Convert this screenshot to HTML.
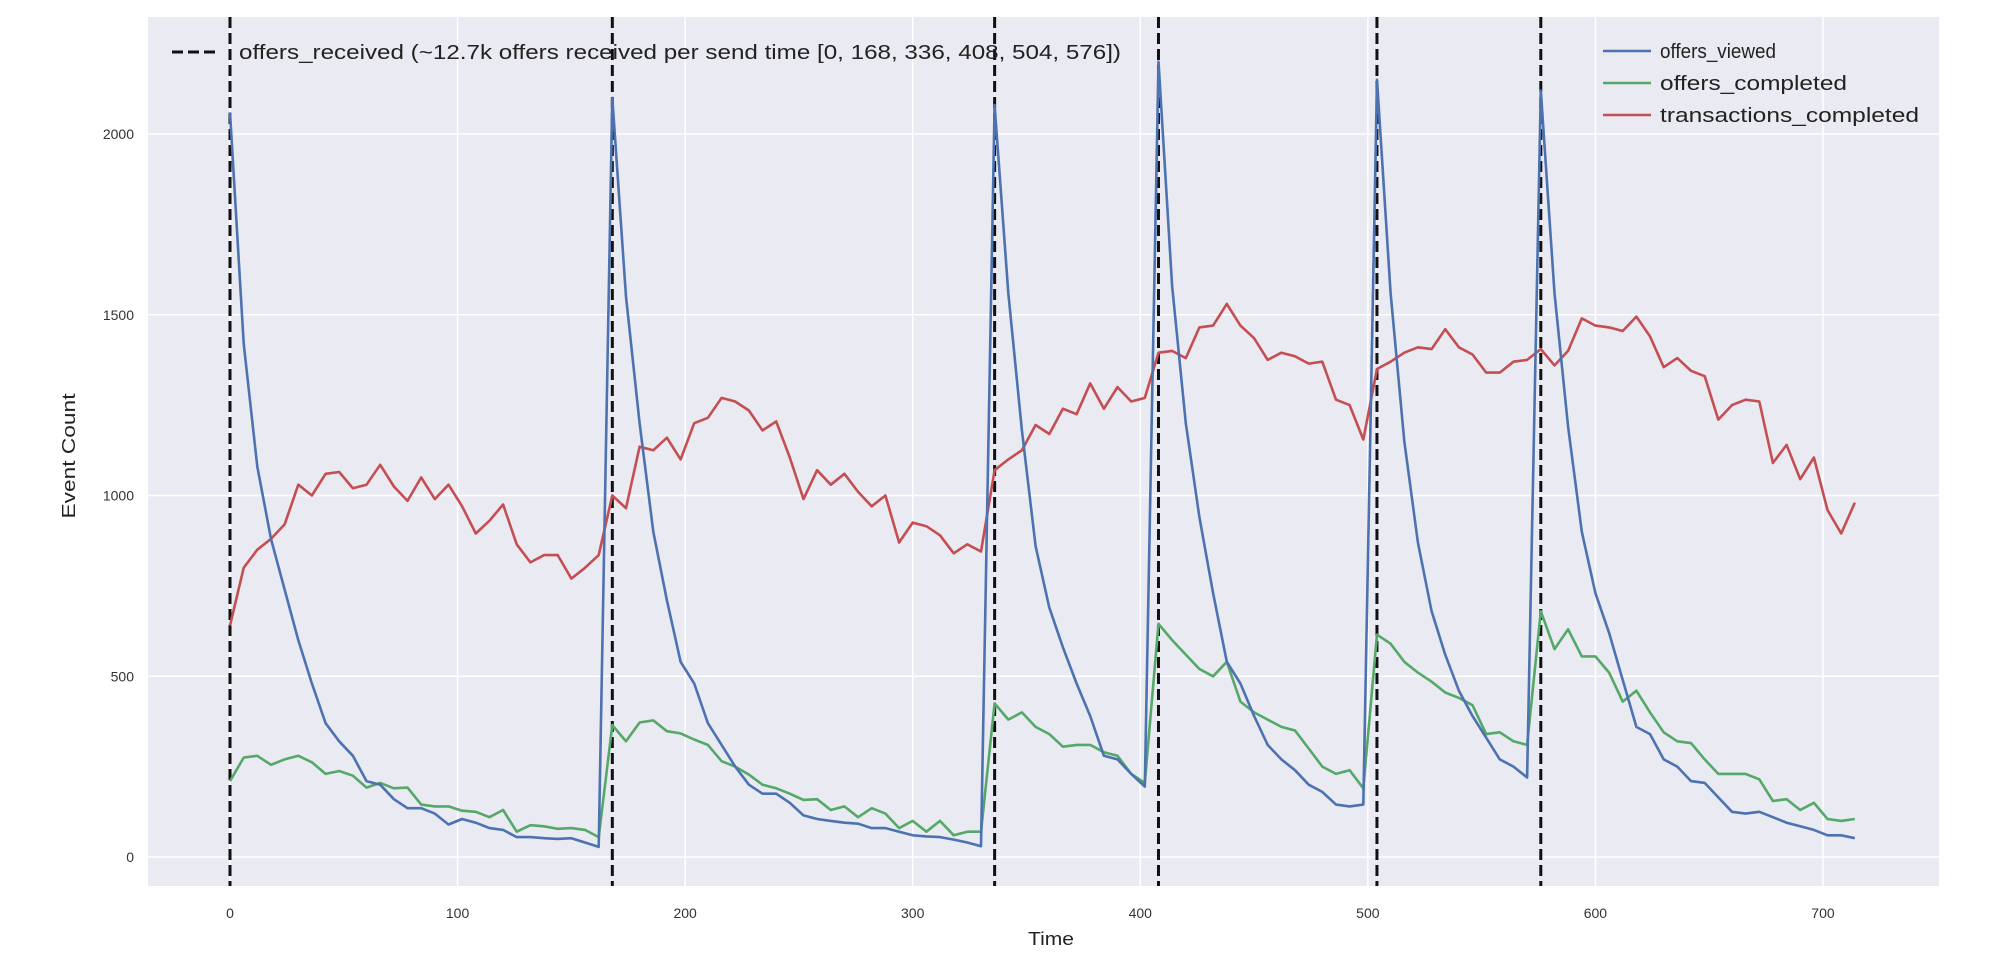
<!DOCTYPE html>
<html><head><meta charset="utf-8"><style>
html,body{margin:0;padding:0;background:#fff;}
svg{display:block;font-family:"Liberation Sans",Arial,sans-serif;}
</style></head><body>
<svg id="chart" width="1992" height="978">
<rect x="148" y="17" width="1791" height="869" fill="#eaeaf2"/>
<g id="grid"></g><g id="xticks"></g><g id="yticks"></g><g id="vlines"></g><g id="series"></g>
<text x="1051" y="945" text-anchor="middle" font-size="18" textLength="46" lengthAdjust="spacingAndGlyphs" fill="#222">Time</text>
<text transform="translate(75,456) rotate(-90)" text-anchor="middle" font-size="18" textLength="125" lengthAdjust="spacingAndGlyphs" fill="#222">Event Count</text>
<g id="legend"></g>
</svg>
<script>
const sendTimes=[0,168,336,408,504,576];
const xTicks=[0,100,200,300,400,500,600,700];
const yTicks=[0,500,1000,1500,2000];
const times=[0,6,12,18,24,30,36,42,48,54,60,66,72,78,84,90,96,102,108,114,120,126,132,138,144,150,156,162,168,174,180,186,192,198,204,210,216,222,228,234,240,246,252,258,264,270,276,282,288,294,300,306,312,318,324,330,336,342,348,354,360,366,372,378,384,390,396,402,408,414,420,426,432,438,444,450,456,462,468,474,480,486,492,498,504,510,516,522,528,534,540,546,552,558,564,570,576,582,588,594,600,606,612,618,624,630,636,642,648,654,660,666,672,678,684,690,696,702,708,714];
const offersViewed=[2060,1420,1080,880,740,600,480,370,320,280,210,200,160,135,135,120,90,105,95,80,75,55,55,52,50,52,40,28,2100,1550,1200,900,710,540,480,370,310,250,200,175,175,150,115,105,100,95,92,80,80,70,60,57,55,48,40,30,2080,1560,1180,860,690,580,480,390,280,270,230,195,2200,1580,1200,940,730,540,480,390,310,270,240,200,180,145,140,145,2150,1560,1150,870,680,560,460,390,330,270,250,220,2120,1560,1190,900,730,620,490,360,340,270,250,210,205,165,125,120,125,110,95,85,75,60,60,52];
const offersCompleted=[210,275,280,255,270,280,262,230,238,225,192,205,190,192,145,140,140,128,125,110,130,70,88,85,78,80,75,55,365,320,372,378,348,342,325,310,265,250,228,200,190,175,158,160,130,140,110,135,120,80,100,70,100,60,70,70,425,380,400,360,340,305,310,310,290,280,230,205,645,600,560,520,500,540,430,400,380,360,350,300,250,230,240,190,615,590,540,510,485,455,440,420,340,345,320,310,680,575,630,555,555,510,430,460,400,345,320,315,270,230,230,230,215,155,160,130,150,105,100,105];
const transactionsCompleted=[640,800,850,880,920,1030,1000,1060,1065,1020,1030,1085,1025,985,1050,990,1030,970,895,930,975,865,815,835,835,770,800,835,1000,965,1135,1125,1160,1100,1200,1215,1270,1260,1235,1180,1205,1105,990,1070,1030,1060,1010,970,1000,870,925,915,890,840,865,845,1070,1100,1125,1195,1170,1240,1225,1310,1240,1300,1260,1270,1395,1400,1380,1465,1470,1530,1470,1435,1375,1395,1385,1365,1370,1265,1250,1155,1350,1370,1395,1410,1405,1460,1410,1390,1340,1340,1370,1375,1405,1360,1400,1490,1470,1465,1455,1495,1440,1355,1380,1345,1330,1210,1250,1265,1260,1090,1140,1045,1105,960,895,980];

const NS='http://www.w3.org/2000/svg';
const X=v=>230+v*2.2757;
const Y=v=>857-v*0.3615;
function mk(tag,attrs,parent){const e=document.createElementNS(NS,tag);for(const k in attrs)e.setAttribute(k,attrs[k]);parent.appendChild(e);return e;}
const grid=document.getElementById('grid');
xTicks.forEach(t=>{
  const l=mk('line',{x1:X(t),x2:X(t),y1:17,y2:886,stroke:'#fff','stroke-width':1.5},grid);
  
  
  const tx=mk('text',{x:X(t),y:918,'text-anchor':'middle','font-size':14,fill:'#333'},document.getElementById('xticks'));
  tx.textContent=t;
  
  
});
yTicks.forEach(t=>{
  const l=mk('line',{x1:148,x2:1939,y1:Y(t),y2:Y(t),stroke:'#fff','stroke-width':1.5},grid);
  
  
  const tx=mk('text',{x:134,y:Y(t)+5,'text-anchor':'end','font-size':14,fill:'#333'},document.getElementById('yticks'));
  tx.textContent=t;
  
  
});
const vg=document.getElementById('vlines');
sendTimes.forEach(t=>{
  const l=mk('line',{x1:X(t),x2:X(t),y1:17,y2:886,stroke:'#111','stroke-width':3,'stroke-dasharray':'11,5'},vg);
  
  
});
const sg=document.getElementById('series');
function line(vals,color,name){
  const d=vals.map((v,i)=>(i?'L':'M')+X(times[i]).toFixed(1)+','+Y(v).toFixed(1)).join('');
  const p=mk('path',{d:d,fill:'none',stroke:color,'stroke-width':2.6,'stroke-linejoin':'round'},sg);
  
  
}
line(transactionsCompleted,'#c44e52','transactions-completed-line');
line(offersCompleted,'#55a868','offers-completed-line');
line(offersViewed,'#4c72b0','offers-viewed-line');
const lg=document.getElementById('legend');
const l0=mk('line',{x1:172,x2:220,y1:52,y2:52,stroke:'#111','stroke-width':3,'stroke-dasharray':'11,5'},lg);


const t0=mk('text',{x:239,y:59,'font-size':20,fill:'#222',textLength:882,lengthAdjust:'spacingAndGlyphs'},lg);
t0.textContent='offers_received (~12.7k offers received per send time [0, 168, 336, 408, 504, 576])';


[['offers_viewed','#4c72b0',51,116],['offers_completed','#55a868',83,187],['transactions_completed','#c44e52',115,259]].forEach(([n,c,y,w])=>{
  const s=mk('line',{x1:1603,x2:1651,y1:y,y2:y,stroke:c,'stroke-width':2.6},lg);
  
  
  const t=mk('text',{x:1660,y:y+7,'font-size':20,fill:'#222',textLength:w,lengthAdjust:'spacingAndGlyphs'},lg);
  t.textContent=n;
  
  
});
</script>
</body></html>
